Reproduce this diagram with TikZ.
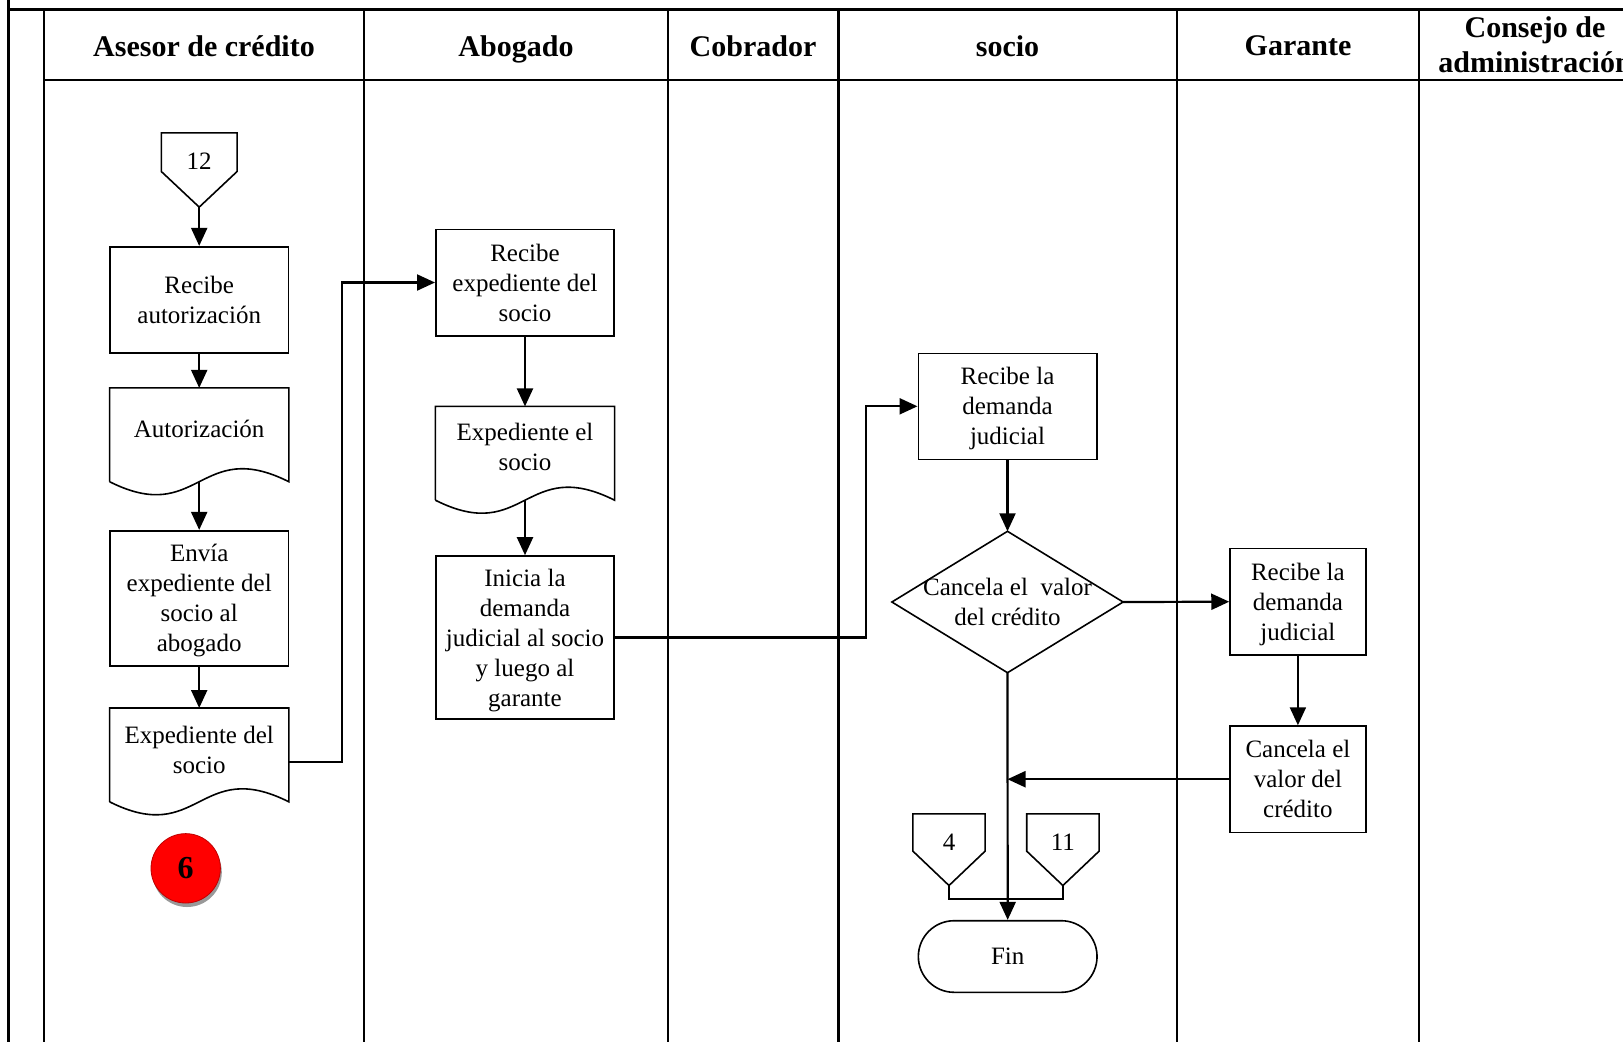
\documentclass[tikz,border=0pt]{standalone}
\usepackage{fontspec}
\setmainfont{Liberation Serif}
\usetikzlibrary{arrows.meta,calc,shadows}

% outline of a document symbol: straight top and sides, wavy bottom
\newcommand\docwave[1]{%
  \draw[shapeline] (#1.south west) -- (#1.north west) -- (#1.north east) -- (#1.south east)
    .. controls ($(#1.south)+(0,-45)$) and ($(#1.south)+(0,45)$) .. (#1.south west);}
% outline of an off-page connector (pentagon pointing down)
\newcommand\offpage[1]{%
  \draw[shapeline] (#1.north west) -- (#1.north east) -- ($(#1.north east)!0.52!(#1.south east)$)
    -- (#1.south) -- ($(#1.north west)!0.52!(#1.south west)$) -- cycle;}

\begin{document}
\begin{tikzpicture}[x=0.5pt,y=-0.5pt,
  lane/.style={line width=1.2pt},
  hdr/.style={font=\fontsize{15}{17.5}\selectfont\bfseries, align=center, inner sep=0pt},
  txt/.style={font=\fontsize{12.5}{15}\selectfont, align=center, inner sep=0pt},
  shapeline/.style={line width=0.8pt},
  procbox/.style={txt, text depth=0pt, draw, line width=0.8pt, rectangle, minimum width=89.2pt},
  docbox/.style={rectangle, inner sep=0pt, minimum width=89.2pt, minimum height=46.5pt},
  offbox/.style={rectangle, inner sep=0pt, minimum width=36.5pt, minimum height=36pt},
  flow/.style={line width=1.1pt, -{Triangle[length=9pt,width=8pt]}},
  plain/.style={line width=1.1pt},
]
\useasboundingbox (0,0) rectangle (1623,1041);
\clip (0,0) rectangle (1623,1041);

% ---- swimlane frame ----
\draw[line width=1.4pt] (8.3,-5) -- (8.3,1050);
\draw[line width=1.4pt] (8.3,9.3) -- (1630,9.3);
\draw[lane] (43.7,80) -- (1630,80);
\foreach \lx in {43.7,363.8,667.7,838.3,1176.8,1419}
  \draw[lane] (\lx,9.3) -- (\lx,1050);

% ---- lane titles ----
\node[hdr, text depth=0pt] (h1) at (204,46) {Asesor de crédito};
\node[hdr, text depth=0pt] (h2) at (516,46) {Abogado};
\node[hdr, text depth=0pt] (h3) at (753,46) {Cobrador};
\node[hdr, text depth=0pt] (h4) at (1007.5,46) {socio};
\node[hdr, text depth=0pt] (h5) at (1298,46) {Garante};
\node[hdr] (h6) at (1535,44.5) {Consejo de\\administración};

% ---- Asesor de crédito ----
\node[offbox, minimum width=37.5pt, minimum height=36.7pt] (c12) at (199.2,170) {};
\offpage{c12}
\node[txt] (c12t) at ($(c12.north)+(0,28)$) {12};

\node[procbox, minimum height=53pt] (b1) at (199.2,299.7) {Recibe\\autorización};

\node[docbox] (d1) at (199.2,434.8) {};
\docwave{d1}
\node[txt] (d1t) at ($(d1.north)+(0,41)$) {Autorización};

\node[procbox, minimum height=67.5pt] (b2) at (199.2,598.2) {Envía\\expediente del\\socio al\\abogado};

\node[docbox] (d2) at (199.2,754.9) {};
\docwave{d2}
\node[txt] (d2t) at ($(d2.north)+(0,42)$) {Expediente del\\socio};

\node[circle, fill=red, draw=red!75!black, line width=0.4pt, minimum size=34.7pt, inner sep=0pt,
      font=\fontsize{16}{16}\selectfont\bfseries,
      drop shadow={shadow xshift=0.7pt, shadow yshift=-2pt, fill=black!40, opacity=1}]
      (m6) at (185.7,868.3) {6};

% ---- Abogado ----
\node[procbox, minimum height=53.2pt] (b3) at (525,282.5) {Recibe\\expediente del\\socio};

\node[docbox] (d3) at (525,453.3) {};
\docwave{d3}
\node[txt] (d3t) at ($(d3.north)+(0,41)$) {Expediente el\\socio};

\node[procbox, minimum height=81.5pt] (b4) at (525,637.5) {Inicia la\\demanda\\judicial al socio\\y luego al\\garante};

% ---- socio ----
\node[procbox, minimum height=53pt] (b5) at (1007.5,406.3) {Recibe la\\demanda\\judicial};

\node[rectangle, inner sep=0pt, minimum width=115.2pt, minimum height=70.3pt] (dec) at (1007.5,602) {};
\draw[shapeline] (dec.north) -- (dec.east) -- (dec.south) -- (dec.west) -- cycle;
\node[txt] (dect) at (1007.5,602) {Cancela el\ \ valor\\del crédito};

\node[offbox, minimum width=35.7pt, minimum height=35.4pt] (c4) at (949,849.7) {};
\offpage{c4}
\node[txt] (c4t) at ($(c4.north)+(0,28)$) {4};

\node[offbox, minimum width=35.8pt, minimum height=35.4pt] (c11) at (1062.9,849.7) {};
\offpage{c11}
\node[txt] (c11t) at ($(c11.north)+(0,28)$) {11};

\node[txt, text depth=0pt, draw, line width=0.8pt, rectangle, rounded corners=17.9pt,
      minimum width=89.35pt, minimum height=35.8pt] (fin) at (1007.7,956.5) {Fin};

% ---- Garante ----
\node[procbox, minimum width=67.85pt, minimum height=53.35pt] (b6) at (1297.9,601.7) {Recibe la\\demanda\\judicial};
\node[procbox, minimum width=67.85pt, minimum height=53.15pt] (b7) at (1297.9,779.2) {Cancela el\\valor del\\crédito};

% ---- connectors ----
\draw[flow] (c12.south) -- (b1.north);
\draw[flow] (b1.south) -- (d1.north);
\draw[flow] (d1.south) -- (b2.north);
\draw[flow] (b2.south) -- (d2.north);
\draw[flow] ([yshift=-3.4pt]d2.east) -- ++(53.4,0) |- (b3.west);

\draw[flow] (b3.south) -- (d3.north);
\draw[flow] (d3.south) -- (b4.north);
\draw[flow] (b4.east) -- ++(251,0) |- (b5.west);

\draw[flow] (b5.south) -- (dec.north);
\draw[flow] (dec.east) -- (b6.west);
\draw[flow] (b6.south) -- (b7.north);
\draw[flow] (b7.west) -- (dec.south |- b7.west);
\draw[flow] (dec.south) -- (fin.north);
\draw[plain] (c4.south) -- ++(0,13.3) -| (c11.south);
\end{tikzpicture}
\end{document}
